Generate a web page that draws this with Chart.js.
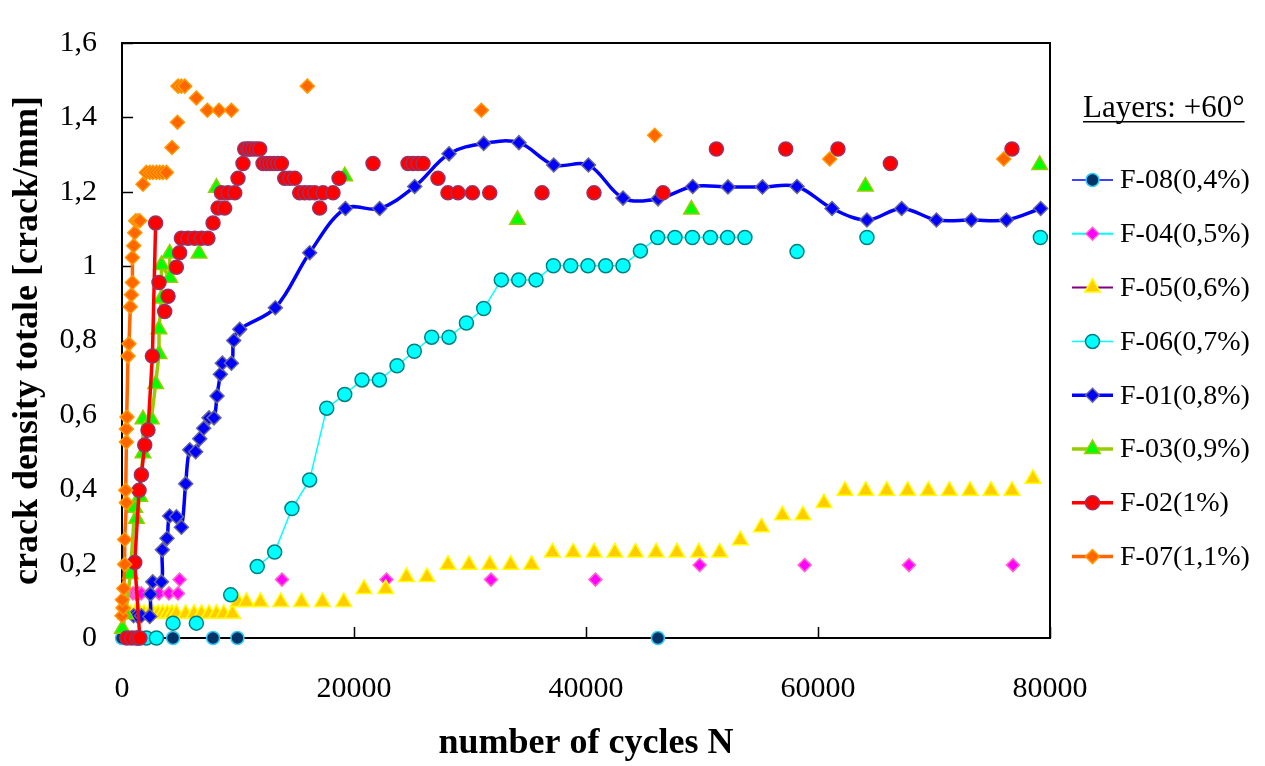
<!DOCTYPE html>
<html>
<head>
<meta charset="utf-8">
<script src="https://cdn.jsdelivr.net/npm/chart.js@4.4.1/dist/chart.umd.min.js"></script>
<style>
  html, body { margin: 0; padding: 0; background: #fff; }
  canvas { display: block; }
</style>
</head>
<body>
<canvas id="crackChart" width="1265" height="766"></canvas>
<script>
const legendTitle = 'Layers: +60°';
const xTickLabels = ['0', '20000', '40000', '60000', '80000'];
const yTickLabels = ['0', '0,2', '0,4', '0,6', '0,8', '1', '1,2', '1,4', '1,6'];
const seriesNames = ['F-08(0,4%)', 'F-04(0,5%)', 'F-05(0,6%)', 'F-06(0,7%)', 'F-01(0,8%)', 'F-03(0,9%)', 'F-02(1%)', 'F-07(1,1%)'];

// F-08 (0,4%)
const f08N = [0, 4400, 7850, 9950, 46200];
const f08D = [0, 0, 0, 0, 0];

// F-04 (0,5%)
const f04N = [950, 1200, 1450, 1670, 2390, 3190, 4050, 4830, 4970, 13790, 22800, 31810, 40810, 49800, 58850, 67840, 76810];
const f04D = [0.12, 0.12, 0.12, 0.12, 0.12, 0.12, 0.12, 0.12, 0.157, 0.157, 0.157, 0.157, 0.157, 0.196, 0.196, 0.196, 0.196];

// F-05 (0,6%)
const f05N = [300, 700, 1100, 1500, 1900, 2300, 2700, 3100, 3500, 3900, 4300, 4690, 5490, 6210, 6850, 7500, 8140, 8770, 9520,
  10000, 10720, 11930, 13680, 15470, 17280, 19110, 20860, 22730, 24520, 26290,
  28100, 29910, 31700, 33500, 35300, 37100, 38890, 40690, 42480, 44260, 46040, 47830, 49710, 51520,
  53300, 55120, 56930, 58700, 60510, 62320, 64110, 65920, 67730, 69510, 71320, 73100, 74910, 76720, 78530];
const f05D = [0.065, 0.065, 0.065, 0.065, 0.065, 0.065, 0.065, 0.065, 0.065, 0.065, 0.065, 0.065, 0.065, 0.065, 0.065, 0.065, 0.065, 0.065, 0.065,
  0.097, 0.097, 0.097, 0.097, 0.097, 0.097, 0.097, 0.132, 0.132, 0.164, 0.164,
  0.197, 0.197, 0.197, 0.197, 0.197, 0.23, 0.23, 0.23, 0.23, 0.23, 0.23, 0.23, 0.23, 0.23,
  0.263, 0.298, 0.33, 0.33, 0.363, 0.396, 0.396, 0.396, 0.396, 0.396, 0.396, 0.396, 0.396, 0.396, 0.428];

// F-06 (0,7%)
const f06N = [1380, 2100, 2970, 4400, 6410, 9370, 11660, 13160, 14650, 16170, 17650, 19200, 20690, 22190, 23710, 25200,
  26700, 28190, 29690, 31180, 32700, 34200, 35690, 37190, 38680, 40170, 41700, 43190, 44690, 46180, 47670, 49170,
  50720, 52210, 53700, 58190, 64220, 79170];
const f06D = [0, 0, 0, 0.04, 0.04, 0.116, 0.192, 0.231, 0.348, 0.425, 0.618, 0.655, 0.694, 0.694, 0.732, 0.771,
  0.809, 0.809, 0.847, 0.886, 0.963, 0.963, 0.963, 1.001, 1.001, 1.001, 1.001, 1.001, 1.041, 1.077, 1.077, 1.077,
  1.077, 1.077, 1.077, 1.039, 1.077, 1.077];

// F-01 (0,8%)
const f01N = [1000, 1300, 1670, 2390, 2450, 2650, 3400, 3480, 3880, 4110, 4690, 5120, 5490, 5840, 6350, 6700, 7040, 7500,
  7930, 8190, 8480, 8650, 9430, 9630, 10150, 13220, 16180, 19260, 22210, 25230, 28190, 31180, 34220, 37220,
  40210, 43190, 46210, 49200, 52240, 55210, 58190, 61210, 64220, 67210, 70210, 73220, 76240, 79200];
const f01D = [0.06, 0.06, 0.06, 0.058, 0.118, 0.151, 0.151, 0.237, 0.268, 0.328, 0.326, 0.298, 0.415, 0.506, 0.501, 0.536, 0.564, 0.592,
  0.592, 0.651, 0.709, 0.739, 0.739, 0.8, 0.83, 0.888, 1.036, 1.155, 1.155, 1.214, 1.302, 1.33, 1.332, 1.272,
  1.272, 1.183, 1.181, 1.214, 1.213, 1.213, 1.214, 1.155, 1.124, 1.155, 1.124, 1.124, 1.124, 1.155];

// F-03 (0,9%)
const f03N = [30, 320, 720, 1100, 1240, 1530, 1810, 1810, 2530, 2900, 3190, 3190, 3400, 3400, 4110, 4110,
  6640, 8140, 19200, 34090, 49090, 64090, 79110];
const f03D = [0.025, 0.064, 0.172, 0.35, 0.321, 0.38, 0.497, 0.588, 0.588, 0.683, 0.764, 0.83, 0.913, 1.003, 0.969, 1.034,
  1.034, 1.211, 1.242, 1.125, 1.152, 1.214, 1.272];

// F-02 (1%)
const f02N = [410, 850, 1280, 1540, 1100, 1470, 1670, 1960, 2240, 2620, 2900,
  3190, 3680, 3970, 4690, 4970, 5120, 5690, 6270, 6850, 7410, 7850, 8280, 8850, 8570, 9140, 9720,
  10000, 10430, 10580, 10860, 11010, 11290, 11590, 11870, 12160, 12470, 12760, 13080, 13420, 13740,
  14030, 14460, 14890, 15320, 15750, 16180, 16610, 17040, 17330, 18190, 18710, 21640,
  24660, 25090, 25520, 25950, 27240, 28100, 28970, 30210, 31700, 36210, 40690, 46640,
  51240, 57220, 61720, 66240, 76720];
const f02D = [0, 0, 0, 0, 0.203, 0.397, 0.439, 0.519, 0.559, 0.758, 1.116,
  0.956, 0.878, 0.919, 0.997, 1.036, 1.075, 1.075, 1.075, 1.075, 1.075, 1.116, 1.156, 1.156, 1.197, 1.197, 1.197,
  1.236, 1.276, 1.315, 1.315, 1.315, 1.315, 1.315, 1.315, 1.276, 1.276, 1.276, 1.276, 1.276, 1.276,
  1.236, 1.236, 1.236, 1.197, 1.197, 1.197, 1.197, 1.156, 1.197, 1.197, 1.236, 1.276,
  1.276, 1.276, 1.276, 1.276, 1.236, 1.197, 1.197, 1.197, 1.197, 1.197, 1.197, 1.197,
  1.315, 1.315, 1.315, 1.276, 1.315];

// F-07 (1,1%)
const f07N = [0, 90, 30, 150, 230, 230, 380, 320, 380, 380, 430, 520, 600, 720, 810, 900, 900, 1010, 1100, 1180, 1350, 1530,
  1810, 2100, 2390, 2670, 2970, 3250, 3530, 3830, 4310, 4780, 4830, 5120, 5410, 6410, 7360, 8360, 9430,
  15980, 30980, 45920, 61010, 76010];
const f07D = [0.06, 0.081, 0.103, 0.133, 0.198, 0.265, 0.364, 0.397, 0.527, 0.562, 0.594, 0.758, 0.791, 0.891, 0.923, 0.956, 1.023, 1.055, 1.09, 1.122, 1.122, 1.122,
  1.22, 1.252, 1.252, 1.252, 1.252, 1.252, 1.252, 1.252, 1.319, 1.387, 1.484, 1.484, 1.484, 1.452, 1.419, 1.419, 1.419,
  1.484, 1.419, 1.352, 1.288, 1.288];

const seriesX = [f08N, f04N, f05N, f06N, f01N, f03N, f02N, f07N];
const seriesY = [f08D, f04D, f05D, f06D, f01D, f03D, f02D, f07D];

// look of each series; span = first/last point index joined by the line
const looks = [
  { fill: '#003366', edge: '#33ccff', line: '#0000ff', lw: 1.5, shape: 'circle', r: 6.5, span: null },
  { fill: '#ff00ff', edge: '#ff66cc', line: '#00ffff', lw: 2, shape: 'rectRot', r: 6.5, span: null },
  { fill: '#ffcc00', edge: '#ffff00', line: '#800080', lw: 2, shape: 'triangle', r: 9, span: null },
  { fill: '#00ffff', edge: '#008080', line: '#00ffff', lw: 1.5, shape: 'circle', r: 7, span: [6, 34] },
  { fill: '#0000ff', edge: '#666699', line: '#0000ff', lw: 3.5, shape: 'rectRot', r: 7, span: [0, 99], smooth: true },
  { fill: '#00ff00', edge: '#99cc00', line: '#99cc00', lw: 3.5, shape: 'triangle', r: 9, span: [0, 15] },
  { fill: '#ff0000', edge: '#993366', line: '#ff0000', lw: 3.5, shape: 'circle', r: 7, span: [0, 10] },
  { fill: '#ff6600', edge: '#ff9900', line: '#ff6600', lw: 3.5, shape: 'rectRot', r: 7, span: [0, 21] }
];

const serif = "'Liberation Serif', 'Times New Roman', serif";

const datasets = seriesNames.map((name, i) => {
  const lk = looks[i];
  return {
    label: name,
    data: seriesX[i].map((x, j) => ({ x: x, y: seriesY[i][j] })),
    borderColor: lk.line,
    borderWidth: lk.lw,
    backgroundColor: lk.fill,
    pointBackgroundColor: lk.fill,
    pointBorderColor: lk.edge,
    pointBorderWidth: 1.5,
    pointStyle: lk.shape,
    pointRadius: lk.r,
    showLine: lk.span !== null,
    tension: lk.smooth ? 0.35 : 0,
    clip: false,
    order: seriesNames.length - i,
    segment: {
      borderColor: ctx => (lk.span && ctx.p0DataIndex >= lk.span[0] && ctx.p1DataIndex <= lk.span[1]) ? lk.line : 'rgba(0,0,0,0)'
    }
  };
});

// frame + inward tick marks, drawn under the markers
const framePlugin = {
  id: 'frame',
  beforeDatasetsDraw(chart) {
    const { ctx, chartArea: a, scales } = chart;
    ctx.save();
    ctx.strokeStyle = '#000';
    ctx.lineWidth = 2;
    ctx.strokeRect(a.left, a.top, a.right - a.left, a.bottom - a.top);
    ctx.lineWidth = 1.5;
    ctx.beginPath();
    scales.y.ticks.forEach(t => {
      const py = Math.round(scales.y.getPixelForValue(t.value)) + 0.5;
      ctx.moveTo(a.left, py);
      ctx.lineTo(a.left + 11, py);
    });
    scales.x.ticks.forEach(t => {
      const px = Math.round(scales.x.getPixelForValue(t.value)) + 0.5;
      ctx.moveTo(px, a.bottom);
      ctx.lineTo(px, a.bottom - 11);
    });
    ctx.stroke();
    ctx.restore();
  }
};

// legend on the right: line with marker through it, then the name
const sideLegend = {
  id: 'sideLegend',
  afterDraw(chart) {
    const ctx = chart.ctx;
    ctx.save();
    ctx.fillStyle = '#000';
    ctx.font = '31px ' + serif;
    ctx.textBaseline = 'alphabetic';
    ctx.textAlign = 'left';
    const tx = 1083, ty = 117;
    ctx.fillText(legendTitle, tx, ty);
    const tw = ctx.measureText(legendTitle).width;
    ctx.fillRect(tx, ty + 4, tw, 1.5);

    ctx.font = '28px ' + serif;
    ctx.textBaseline = 'middle';
    chart.data.datasets.forEach((ds, i) => {
      const y = 180 + i * 53.8;
      const lk = looks[i];
      ctx.strokeStyle = lk.line;
      ctx.lineWidth = lk.lw;
      ctx.beginPath();
      ctx.moveTo(1072, y);
      ctx.lineTo(1113, y);
      ctx.stroke();
      ctx.fillStyle = lk.fill;
      ctx.strokeStyle = lk.edge;
      ctx.lineWidth = 1.5;
      Chart.helpers.drawPoint(ctx, { pointStyle: lk.shape, radius: lk.r, rotation: 0, borderWidth: 1.5 }, 1092.5, y);
      ctx.fillStyle = '#000';
      ctx.fillText(ds.label, 1120, y + 1);
    });
    ctx.restore();
  }
};

new Chart(document.getElementById('crackChart'), {
  type: 'scatter',
  data: { datasets: datasets },
  options: {
    responsive: false,
    devicePixelRatio: 1,
    animation: false,
    layout: { padding: { top: 22, right: 215, bottom: 0, left: 0 } },
    plugins: { legend: { display: false }, tooltip: { enabled: false } },
    scales: {
      x: {
        type: 'linear',
        min: 0,
        max: 80000,
        afterFit: s => { s.height = 128; },
        grid: { display: false, drawTicks: false, tickLength: 0 },
        border: { display: false },
        ticks: {
          stepSize: 20000,
          padding: 33,
          maxRotation: 0,
          color: '#000',
          font: { family: serif, size: 30 },
          callback: (v, i) => xTickLabels[i]
        },
        title: {
          display: true,
          text: 'number of cycles N',
          color: '#000',
          font: { family: serif, size: 36, weight: 'bold', lineHeight: 1 },
          padding: { top: 0, bottom: 4 }
        }
      },
      y: {
        type: 'linear',
        min: 0,
        max: 1.6,
        afterFit: s => { s.width = 122; },
        grid: { display: false, drawTicks: false, tickLength: 0 },
        border: { display: false },
        ticks: {
          stepSize: 0.2,
          padding: 25,
          color: '#000',
          font: { family: serif, size: 30 },
          callback: (v, i) => yTickLabels[i]
        },
        title: {
          display: true,
          text: 'crack density totale [crack/mm]',
          color: '#000',
          font: { family: serif, size: 36, weight: 'bold', lineHeight: 1 },
          padding: { top: 10, bottom: 0 }
        }
      }
    }
  },
  plugins: [framePlugin, sideLegend]
});
</script>
</body>
</html>
